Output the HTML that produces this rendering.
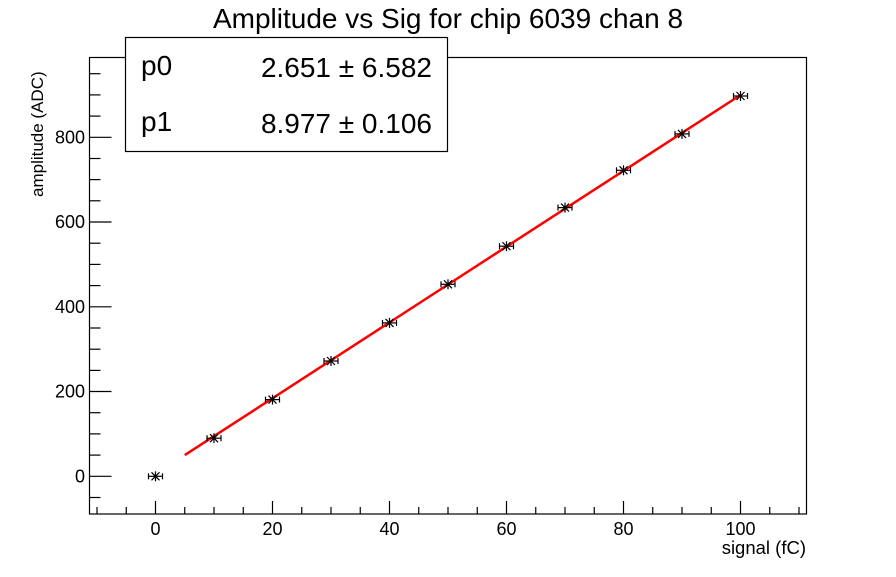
<!DOCTYPE html>
<html><head><meta charset="utf-8"><style>
html,body{margin:0;padding:0;background:#fff;}
svg text{font-family:"Liberation Sans",sans-serif;fill:#000;}
</style></head><body>
<svg width="896" height="572" viewBox="0 0 896 572" xmlns="http://www.w3.org/2000/svg">
<defs>
<g id="m" stroke="#000" stroke-width="1.2" fill="none">
<line x1="-7" y1="0" x2="7" y2="0"/><line x1="-7" y1="-3" x2="-7" y2="3"/><line x1="7" y1="-3" x2="7" y2="3"/>
<line x1="0" y1="-5" x2="0" y2="5"/><line x1="-4" y1="-4" x2="4" y2="4"/><line x1="-4" y1="4" x2="4" y2="-4"/>
</g>
</defs>
<rect width="896" height="572" fill="#fff"/>
<text x="448" y="28" font-size="28" text-anchor="middle">Amplitude vs Sig for chip 6039 chan 8</text>
<rect x="89.5" y="57.5" width="717" height="456.5" fill="none" stroke="#000" stroke-width="1.2"/>
<g stroke="#000" stroke-width="1.2">
<line x1="97" y1="514" x2="97" y2="507"/><line x1="126.25" y1="514" x2="126.25" y2="507"/><line x1="155.5" y1="514" x2="155.5" y2="501"/><line x1="184.75" y1="514" x2="184.75" y2="507"/><line x1="214" y1="514" x2="214" y2="507"/><line x1="243.25" y1="514" x2="243.25" y2="507"/><line x1="272.5" y1="514" x2="272.5" y2="501"/><line x1="301.75" y1="514" x2="301.75" y2="507"/><line x1="331" y1="514" x2="331" y2="507"/><line x1="360.25" y1="514" x2="360.25" y2="507"/><line x1="389.5" y1="514" x2="389.5" y2="501"/><line x1="418.75" y1="514" x2="418.75" y2="507"/><line x1="448" y1="514" x2="448" y2="507"/><line x1="477.25" y1="514" x2="477.25" y2="507"/><line x1="506.5" y1="514" x2="506.5" y2="501"/><line x1="535.75" y1="514" x2="535.75" y2="507"/><line x1="565" y1="514" x2="565" y2="507"/><line x1="594.25" y1="514" x2="594.25" y2="507"/><line x1="623.5" y1="514" x2="623.5" y2="501"/><line x1="652.75" y1="514" x2="652.75" y2="507"/><line x1="682" y1="514" x2="682" y2="507"/><line x1="711.25" y1="514" x2="711.25" y2="507"/><line x1="740.5" y1="514" x2="740.5" y2="501"/><line x1="769.75" y1="514" x2="769.75" y2="507"/><line x1="799" y1="514" x2="799" y2="507"/>
<line x1="89.5" y1="497.5" x2="100.5" y2="497.5"/><line x1="89.5" y1="476.3" x2="111.5" y2="476.3"/><line x1="89.5" y1="455.1" x2="100.5" y2="455.1"/><line x1="89.5" y1="433.9" x2="100.5" y2="433.9"/><line x1="89.5" y1="412.7" x2="100.5" y2="412.7"/><line x1="89.5" y1="391.5" x2="111.5" y2="391.5"/><line x1="89.5" y1="370.4" x2="100.5" y2="370.4"/><line x1="89.5" y1="349.2" x2="100.5" y2="349.2"/><line x1="89.5" y1="328" x2="100.5" y2="328"/><line x1="89.5" y1="306.8" x2="111.5" y2="306.8"/><line x1="89.5" y1="285.6" x2="100.5" y2="285.6"/><line x1="89.5" y1="264.4" x2="100.5" y2="264.4"/><line x1="89.5" y1="243.2" x2="100.5" y2="243.2"/><line x1="89.5" y1="222" x2="111.5" y2="222"/><line x1="89.5" y1="200.8" x2="100.5" y2="200.8"/><line x1="89.5" y1="179.6" x2="100.5" y2="179.6"/><line x1="89.5" y1="158.5" x2="100.5" y2="158.5"/><line x1="89.5" y1="137.3" x2="111.5" y2="137.3"/><line x1="89.5" y1="116.1" x2="100.5" y2="116.1"/><line x1="89.5" y1="94.9" x2="100.5" y2="94.9"/><line x1="89.5" y1="73.7" x2="100.5" y2="73.7"/>
</g>
<g font-size="18">
<text x="155.5" y="535" text-anchor="middle">0</text><text x="272.5" y="535" text-anchor="middle">20</text><text x="389.5" y="535" text-anchor="middle">40</text><text x="506.5" y="535" text-anchor="middle">60</text><text x="623.5" y="535" text-anchor="middle">80</text><text x="740.5" y="535" text-anchor="middle">100</text>
<text x="85" y="482.5" text-anchor="end">0</text><text x="85" y="397.7" text-anchor="end">200</text><text x="85" y="313" text-anchor="end">400</text><text x="85" y="228.2" text-anchor="end">600</text><text x="85" y="143.5" text-anchor="end">800</text>
</g>
<text x="806" y="554" font-size="18.5" text-anchor="end">signal (fC)</text>
<text transform="translate(43,197) rotate(-90)" font-size="17" text-anchor="start">amplitude (ADC)</text>
<line x1="184.75" y1="455.1" x2="740.5" y2="95" stroke="#f00" stroke-width="2.5"/>
<use href="#m" x="155.5" y="476.3"/><use href="#m" x="214" y="438.2"/><use href="#m" x="272.5" y="399.6"/><use href="#m" x="331" y="361"/><use href="#m" x="389.5" y="322.9"/><use href="#m" x="448" y="284.3"/><use href="#m" x="506.5" y="246.2"/><use href="#m" x="565" y="207.6"/><use href="#m" x="623.5" y="170.3"/><use href="#m" x="682" y="133.9"/><use href="#m" x="740.5" y="96"/>
<rect x="125.5" y="37.5" width="322" height="114" fill="#fff" stroke="#000" stroke-width="1.2"/>
<text x="141" y="75" font-size="28">p0</text>
<text x="432" y="77" font-size="28" text-anchor="end">2.651 ± 6.582</text>
<text x="141" y="131" font-size="28">p1</text>
<text x="432" y="133" font-size="28" text-anchor="end">8.977 ± 0.106</text>
</svg>
</body></html>
